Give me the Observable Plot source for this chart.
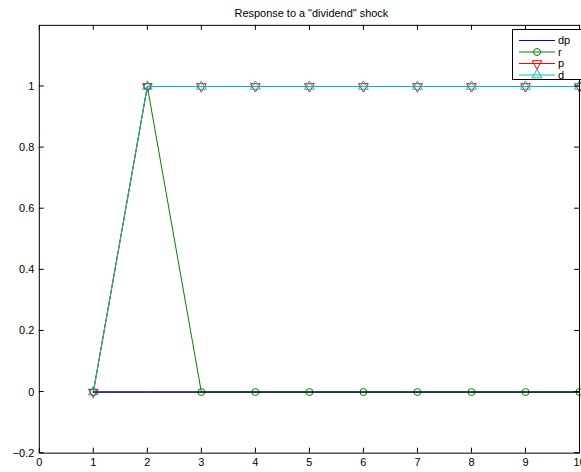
<!DOCTYPE html>
<html>
<head>
<meta charset="utf-8">
<script src="https://cdn.jsdelivr.net/npm/d3@7"></script>
<script src="https://cdn.jsdelivr.net/npm/@observablehq/plot@0.6"></script>
<style>
  html, body { margin: 0; padding: 0; background: #fff; overflow: hidden; }
  #chart { position: relative; width: 581px; height: 472px; overflow: hidden; font-family: "Liberation Sans", Arial, sans-serif; }
  #legend { position: absolute; left: 512px; top: 29px; }
</style>
</head>
<body>
<div id="chart"></div>
<script>
// Impulse responses over ten periods
const periods = [1, 2, 3, 4, 5, 6, 7, 8, 9, 10];
const dp = [0, 0, 0, 0, 0, 0, 0, 0, 0, 0];
const r  = [0, 1, 0, 0, 0, 0, 0, 0, 0, 0];
const p  = [0, 1, 1, 1, 1, 1, 1, 1, 1, 1];
const d  = [0, 1, 1, 1, 1, 1, 1, 1, 1, 1];
const zeroLine = [0, 0, 0, 0, 0, 0, 0, 0, 0, 0];

const seriesNames   = ["dp", "r", "p", "d"];
const seriesValues  = [dp, r, p, d];
const seriesColors  = ["#0000ff", "#008000", "#ff0000", "#00bfbf"];
const seriesSymbols = [null, "circle", "triangle-down", "triangle-up"];

const xTicks = [0, 1, 2, 3, 4, 5, 6, 7, 8, 9, 10];
const yTicks = [-0.2, 0, 0.2, 0.4, 0.6, 0.8, 1];
const title = 'Response to a "dividend" shock';

const W = 584, H = 472;
const mL = 39, mR = 2, mT = 25, mB = 17;
const innerW = W - mL - mR, innerH = H - mT - mB;
const tickLen = 5;

const fmtY = v => {
  const s = String(+v.toFixed(1));
  return s.replace("-", "\u2212");
};

function markerFor(sym, color, data, x, y) {
  if (!sym) return null;
  const base = {x, y, stroke: color, fill: "none", strokeWidth: 1};
  if (sym === "circle") return Plot.dot(data, {...base, symbol: "circle", r: 3.5});
  if (sym === "triangle-up") return Plot.dot(data, {...base, symbol: "triangle", r: 3.6});
  return Plot.dot(data, {...base, symbol: "triangle", r: 3.6, rotate: 180});
}

const seriesMarks = seriesValues.flatMap((vals, k) => [
  Plot.line(periods, {x: t => t, y: (t, i) => vals[i], stroke: seriesColors[k], strokeWidth: 1}),
  markerFor(seriesSymbols[k], seriesColors[k], periods, t => t, (t, i) => vals[i])
]).filter(Boolean);

const chart = Plot.plot({
  width: W,
  height: H,
  marginLeft: mL,
  marginRight: mR,
  marginTop: mT,
  marginBottom: mB,
  style: {fontFamily: "'Liberation Sans', Arial, sans-serif", fontSize: "11px", background: "white", overflow: "visible"},
  x: {domain: [0, 10]},
  y: {domain: [-0.2, 1.2]},
  marks: [
    ...seriesMarks,
    // reference line at zero
    Plot.line(periods, {x: t => t, y: (t, i) => zeroLine[i], stroke: "black", strokeWidth: 1}),
    // inward ticks on all four sides
    Plot.ruleX(xTicks, {x: v => v, insetTop: innerH - tickLen, stroke: "black"}),
    Plot.ruleX(xTicks, {x: v => v, insetBottom: innerH - tickLen, stroke: "black"}),
    Plot.ruleY(yTicks, {y: v => v, dy: -0.5, insetRight: innerW - tickLen, stroke: "black"}),
    Plot.ruleY(yTicks, {y: v => v, dy: -0.5, insetLeft: innerW - tickLen, stroke: "black"}),
    Plot.axisX(xTicks, {tickSize: 0, tickPadding: 5, label: null, fontSize: 11, tickFormat: v => String(v)}),
    Plot.axisY(yTicks, {tickSize: 0, tickPadding: 5, label: null, fontSize: 11, tickFormat: fmtY}),
    Plot.frame({stroke: "black", strokeWidth: 1}),
    Plot.text([title], {text: t => t, frameAnchor: "top", dy: -16, dx: 2, fontSize: 11, fill: "black"})
  ]
});
document.getElementById("chart").appendChild(chart);

// Legend box in the upper right corner of the axes
const rowH = 11.5, boxW = 80, boxH = 50;
const legend = d3.select("#chart").append("svg")
  .attr("id", "legend")
  .attr("width", boxW + 2)
  .attr("height", boxH + 2)
  .style("font-family", "'Liberation Sans', Arial, sans-serif")
  .style("font-size", "11px");
legend.append("rect")
  .attr("x", 0.5).attr("y", 0.5)
  .attr("width", boxW).attr("height", boxH)
  .attr("fill", "white").attr("stroke", "black");
seriesNames.forEach((name, k) => {
  const cy = 11 + k * rowH;
  const g = legend.append("g").attr("transform", `translate(0,${cy})`);
  g.append("line").attr("x1", 7).attr("x2", 43).attr("y1", 0.5).attr("y2", 0.5)
    .attr("stroke", seriesColors[k]);
  const sym = seriesSymbols[k];
  if (sym === "circle") {
    g.append("circle").attr("cx", 25).attr("cy", 0.5).attr("r", 3.5)
      .attr("fill", "none").attr("stroke", seriesColors[k]);
  } else if (sym) {
    const pathData = d3.symbol(d3.symbolTriangle, 3.6 * 3.6 * Math.PI)();
    g.append("path").attr("d", pathData)
      .attr("transform", `translate(25,0.5)${sym === "triangle-down" ? " rotate(180)" : ""}`)
      .attr("fill", "none").attr("stroke", seriesColors[k]);
  }
  g.append("text").attr("x", 46).attr("y", 0.5).attr("dy", "0.35em")
    .attr("fill", "black").text(name);
});
</script>
</body>
</html>
